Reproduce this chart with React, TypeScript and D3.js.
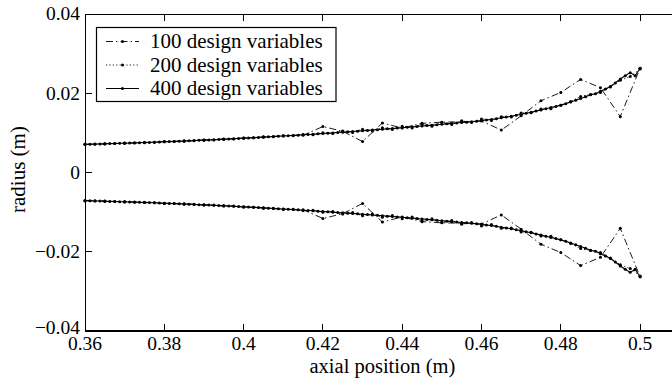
import React from "react";
import * as d3 from "d3";

// ---------- data (upper branch; lower branch is the mirror image) ----------
const x100 = [0.36,0.365,0.37,0.375,0.38,0.385,0.39,0.395,0.4,0.405,0.41,0.415,0.42,0.425,0.43,0.435,0.44,0.445,0.45,0.455,0.46,0.465,0.47,0.475,0.48,0.485,0.49,0.495,0.5];
const r100 = [0.0071,0.0072,0.0074,0.0075,0.0078,0.0079,0.0082,0.0084,0.0087,0.0089,0.0093,0.0094,0.0116,0.0104,0.0078,0.0125,0.0112,0.0124,0.0127,0.0128,0.0130,0.0107,0.0143,0.0181,0.0202,0.0235,0.0214,0.0141,0.0263];

const x200 = [0.36,0.3625,0.365,0.3675,0.37,0.3725,0.375,0.3775,0.38,0.3825,0.385,0.3875,0.39,0.3925,0.395,0.3975,0.4,0.4025,0.405,0.4075,0.41,0.4125,0.415,0.4175,0.42,0.4225,0.425,0.4275,0.43,0.4325,0.435,0.4375,0.44,0.4425,0.445,0.4475,0.45,0.4525,0.455,0.4575,0.46,0.4625,0.465,0.4675,0.47,0.4725,0.475,0.4775,0.48,0.4825,0.485,0.4875,0.49,0.4925,0.495,0.4975,0.5];
const r200 = [0.00712,0.00716,0.00727,0.0073,0.00742,0.00746,0.0076,0.00762,0.00778,0.00782,0.00799,0.00801,0.00822,0.00823,0.00846,0.00848,0.00873,0.00874,0.009,0.009,0.0093,0.00928,0.00962,0.00955,0.01005,0.00985,0.0105,0.01012,0.0109,0.01048,0.0113,0.01085,0.0117,0.01125,0.01215,0.01168,0.0126,0.01212,0.01305,0.01262,0.01352,0.01315,0.01408,0.014,0.015,0.01505,0.016,0.0161,0.017,0.0179,0.0192,0.0197,0.0202,0.0216,0.0233,0.0242,0.0261];

const x400 = [0.36,0.36125,0.3625,0.36375,0.365,0.36625,0.3675,0.36875,0.37,0.37125,0.3725,0.37375,0.375,0.37625,0.3775,0.37875,0.38,0.38125,0.3825,0.38375,0.385,0.38625,0.3875,0.38875,0.39,0.39125,0.3925,0.39375,0.395,0.39625,0.3975,0.39875,0.4,0.40125,0.4025,0.40375,0.405,0.40625,0.4075,0.40875,0.41,0.41125,0.4125,0.41375,0.415,0.41625,0.4175,0.41875,0.42,0.42125,0.4225,0.42375,0.425,0.42625,0.4275,0.42875,0.43,0.43125,0.4325,0.43375,0.435,0.43625,0.4375,0.43875,0.44,0.44125,0.4425,0.44375,0.445,0.44625,0.4475,0.44875,0.45,0.45125,0.4525,0.45375,0.455,0.45625,0.4575,0.45875,0.46,0.46125,0.4625,0.46375,0.465,0.46625,0.4675,0.46875,0.47,0.47125,0.4725,0.47375,0.475,0.47625,0.4775,0.47875,0.48,0.48125,0.4825,0.48375,0.485,0.48625,0.4875,0.48875,0.49,0.49125,0.4925,0.49375,0.495,0.49625,0.4975,0.49875,0.5];
const r400 = [0.0071,0.00713,0.00718,0.0072,0.00725,0.00729,0.00732,0.00737,0.0074,0.00745,0.00748,0.00753,0.00757,0.0076,0.00765,0.00771,0.00775,0.0078,0.00785,0.00789,0.00795,0.00801,0.00805,0.00812,0.00817,0.00822,0.00828,0.00835,0.0084,0.00846,0.00853,0.0086,0.00866,0.00872,0.0088,0.00886,0.00893,0.009,0.00907,0.00914,0.00921,0.00929,0.00936,0.00943,0.00951,0.00959,0.00967,0.00975,0.00983,0.00991,0.01,0.01008,0.01017,0.01026,0.01035,0.01044,0.01053,0.01062,0.01072,0.01081,0.01091,0.01101,0.01111,0.01121,0.01131,0.01141,0.01152,0.01162,0.01173,0.01184,0.01195,0.01206,0.01217,0.01228,0.0124,0.0125,0.0126,0.0127,0.0128,0.01295,0.0131,0.01325,0.0134,0.01358,0.0138,0.01398,0.0142,0.01444,0.0147,0.01494,0.0152,0.01549,0.0158,0.01609,0.0164,0.01668,0.017,0.01738,0.0178,0.01824,0.0187,0.01914,0.0196,0.0199,0.0205,0.0211,0.0217,0.0226,0.0236,0.0244,0.0252,0.0244,0.0263];

const seriesNames = ["100 design variables", "200 design variables", "400 design variables"];
const xTicks = [0.36, 0.38, 0.4, 0.42, 0.44, 0.46, 0.48, 0.5];
const xTickLabels = ["0.36", "0.38", "0.4", "0.42", "0.44", "0.46", "0.48", "0.5"];
const yTicks = [-0.04, -0.02, 0, 0.02, 0.04];
const yTickLabels = ["\u22120.04", "\u22120.02", "0", "0.02", "0.04"];
const xLabel = "axial position (m)";
const yLabel = "radius (m)";

const FONT = '"Liberation Serif", "Times New Roman", Times, serif';

export default function App() {
  const W = 672, H = 383;
  const left = 85, right = 679.75, top = 14, bottom = 331;
  const x = d3.scaleLinear().domain([0.36, 0.51]).range([left, right]);
  const y = d3.scaleLinear().domain([-0.04, 0.04]).range([bottom, top]);
  const line = d3.line<[number, number]>().x(d => x(d[0])).y(d => y(d[1]));

  const series = [
    { xs: x100, rs: r100, dash: "7,3,1.5,3", width: 0.9 },
    { xs: x200, rs: r200, dash: "1.2,2.2", width: 0.9 },
    { xs: x400, rs: r400, dash: "none", width: 1.1 },
  ];

  const tickLen = 7;
  const legendRows = [41.5, 65, 88.5];

  return (
    <svg width={W} height={H} style={{ position: "absolute", left: 0, top: 0, background: "#fff" }}
      fontFamily={FONT}>
      <rect x={0} y={0} width={W} height={H} fill="#fff" />
      {/* data */}
      {series.map((s, i) => {
        const upper: [number, number][] = s.xs.map((v, k) => [v, s.rs[k]]);
        const lower: [number, number][] = s.xs.map((v, k) => [v, -s.rs[k]]);
        return (
          <g key={i}>
            {[upper, lower].map((pts, j) => (
              <g key={j}>
                <path d={line(pts) || ""} fill="none" stroke="#000" strokeWidth={s.width}
                  strokeDasharray={s.dash} />
                {pts.map((p, k) => (
                  <circle key={k} cx={x(p[0])} cy={y(p[1])} r={1.5} fill="#000" />
                ))}
              </g>
            ))}
          </g>
        );
      })}
      {/* axes box */}
      <g stroke="#000" strokeWidth={1} fill="none" shapeRendering="crispEdges">
        <line x1={left} x2={right} y1={top} y2={top} />
        <line x1={left} x2={right + 0.5} y1={bottom} y2={bottom} strokeWidth={1.5} />
        <line x1={left} x2={left} y1={top} y2={bottom} />
        <line x1={right} x2={right} y1={top} y2={bottom} />
        {xTicks.map((t, i) => (
          <g key={i}>
            <line x1={x(t)} x2={x(t)} y1={bottom} y2={bottom - tickLen} />
            <line x1={x(t)} x2={x(t)} y1={top} y2={top + tickLen} />
          </g>
        ))}
        {yTicks.map((t, i) => (
          <g key={i}>
            <line x1={left} x2={left + tickLen} y1={y(t)} y2={y(t)} />
            <line x1={right} x2={right - tickLen} y1={y(t)} y2={y(t)} />
          </g>
        ))}
      </g>
      {/* tick labels */}
      <g fontSize={19.5} fill="#000">
        {xTicks.map((t, i) => (
          <text key={i} x={x(t)} y={bottom + 19} textAnchor="middle">{xTickLabels[i]}</text>
        ))}
        {yTicks.map((t, i) => (
          <text key={i} x={left - 5} y={y(t)} dy={i === 0 ? "0.15em" : "0.33em"} textAnchor="end">{yTickLabels[i]}</text>
        ))}
      </g>
      {/* axis labels */}
      <text x={(left + right) / 2} y={373} textAnchor="middle" fontSize={20.5}>{xLabel}</text>
      <text transform={`translate(25,${(top + bottom) / 2 - 3}) rotate(-90)`} textAnchor="middle" fontSize={21}>{yLabel}</text>
      {/* legend */}
      <g>
        <rect x={96.5} y={27.5} width={239.5} height={74} fill="#fff" stroke="#000" strokeWidth={1.2} />
        {series.map((s, i) => (
          <g key={i}>
            <line x1={106} x2={139} y1={legendRows[i]} y2={legendRows[i]} stroke="#000"
              strokeWidth={s.width} strokeDasharray={s.dash} />
            <circle cx={122.5} cy={legendRows[i]} r={1.5} fill="#000" />
            <text x={150} y={legendRows[i]} dy="0.33em" fontSize={21} fill="#000">{seriesNames[i]}</text>
          </g>
        ))}
      </g>
    </svg>
  );
}
